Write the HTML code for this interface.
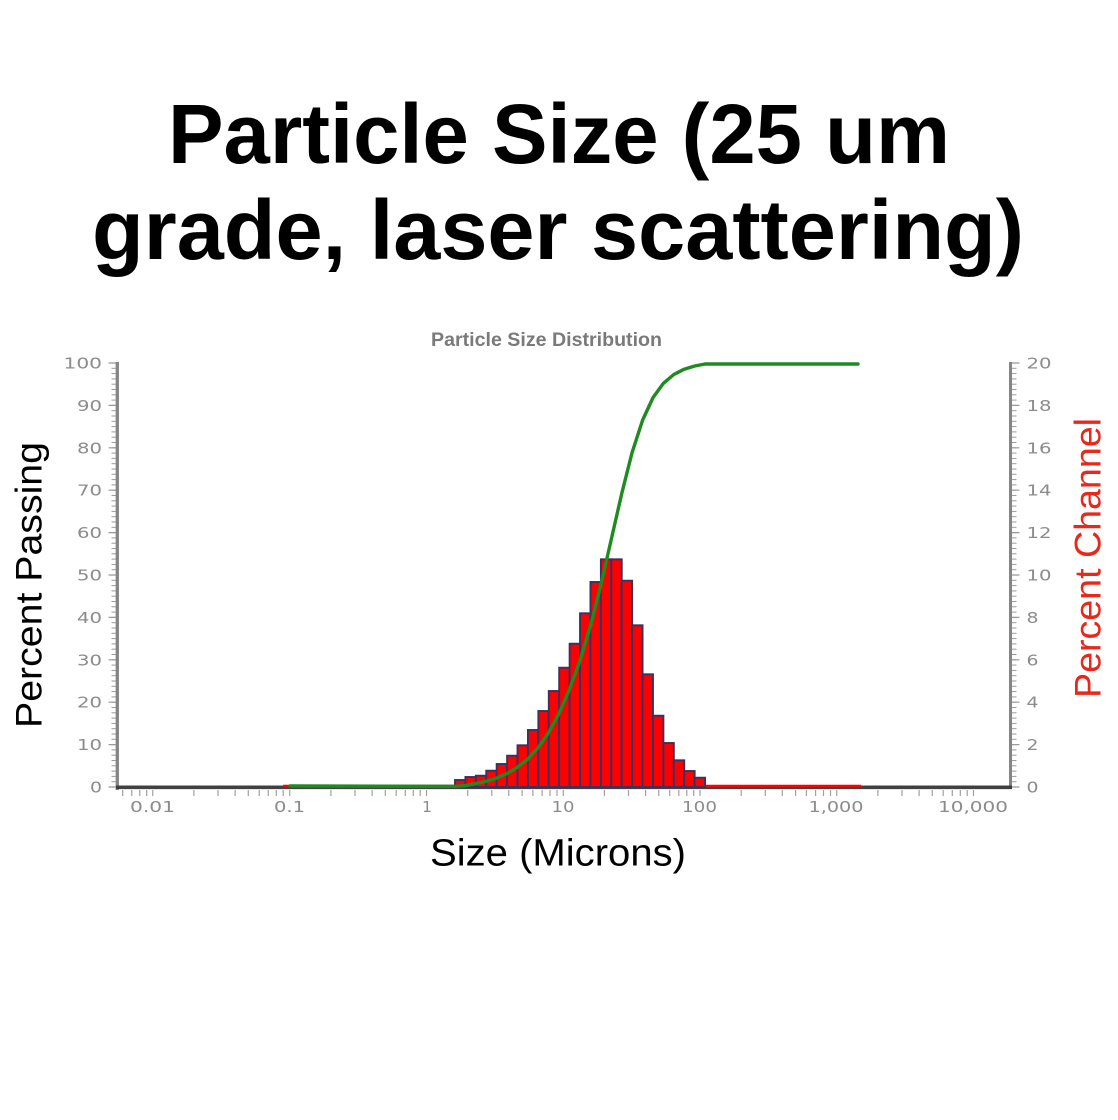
<!DOCTYPE html>
<html>
<head>
<meta charset="utf-8">
<style>
  html, body { margin: 0; padding: 0; background: #ffffff; }
  body { width: 1118px; height: 1120px; overflow: hidden; }
  svg { display: block; }
</style>
</head>
<body>
<svg width="1118" height="1120" viewBox="0 0 1118 1120" xmlns="http://www.w3.org/2000/svg">
  <defs>
    <pattern id="ytick" x="0" y="786.5" width="20" height="5.3" patternUnits="userSpaceOnUse">
      <rect x="0" y="0" width="20" height="1" fill="#9a9a9a"/>
    </pattern>
  </defs>
  <rect x="0" y="0" width="1118" height="1120" fill="#ffffff"/>

  <!-- Main title -->
  <text x="559" y="163" text-anchor="middle" font-family="'Liberation Sans', Arial, sans-serif" font-weight="bold" font-size="84" fill="#000" textLength="782" lengthAdjust="spacingAndGlyphs">Particle Size (25 um</text>
  <text x="558" y="259" text-anchor="middle" font-family="'Liberation Sans', Arial, sans-serif" font-weight="bold" font-size="84" fill="#000" textLength="932" lengthAdjust="spacingAndGlyphs">grade, laser scattering)</text>

  <!-- Chart title -->
  <text x="431" y="346" font-family="'Liberation Sans', Arial, sans-serif" font-weight="bold" font-size="19.6" fill="#7a7a7a" textLength="231" lengthAdjust="spacingAndGlyphs">Particle Size Distribution</text>

  <!-- Left axis minor/major ticks -->
  <rect x="111.5" y="362" width="4.5" height="426" fill="url(#ytick)"/>
  <path d="M108.5 787H116M108.5 744.6H116M108.5 702.2H116M108.5 659.8H116M108.5 617.4H116M108.5 575H116M108.5 532.6H116M108.5 490.2H116M108.5 447.8H116M108.5 405.4H116M108.5 363H116" stroke="#999" stroke-width="1.2" fill="none"/>
  <!-- Right axis ticks -->
  <rect x="1012" y="362" width="4.5" height="426" fill="url(#ytick)"/>
  <path d="M1012 787H1019.5M1012 744.6H1019.5M1012 702.2H1019.5M1012 659.8H1019.5M1012 617.4H1019.5M1012 575H1019.5M1012 532.6H1019.5M1012 490.2H1019.5M1012 447.8H1019.5M1012 405.4H1019.5M1012 363H1019.5" stroke="#999" stroke-width="1.2" fill="none"/>

  <!-- X axis ticks -->
  <path stroke="#a0a0a0" stroke-width="1.2" fill="none" d="
    M122.7 790V796M131.8 790V796M139.8 790V796M146.7 790V796
    M152.75 790V796M193.9 790V796M218 790V796M235.1 790V796M248.3 790V796M259.2 790V796M268.3 790V796M276.3 790V796M283.2 790V796
    M289.75 790V796M330.9 790V796M355 790V796M372.1 790V796M385.3 790V796M396.2 790V796M405.3 790V796M413.3 790V796M420.2 790V796
    M426.5 790V796M467.7 790V796M491.8 790V796M508.8 790V796M522.1 790V796M532.9 790V796M542.1 790V796M550 790V796M557 790V796
    M563.25 790V796M604.4 790V796M628.5 790V796M645.6 790V796M658.8 790V796M669.7 790V796M678.8 790V796M686.8 790V796M693.7 790V796
    M700 790V796M741.2 790V796M765.3 790V796M782.3 790V796M795.6 790V796M806.4 790V796M815.6 790V796M823.5 790V796M830.5 790V796
    M836.75 790V796M877.9 790V796M902 790V796M919.1 790V796M932.3 790V796M943.2 790V796M952.3 790V796M960.3 790V796M967.2 790V796
    M973.5 790V796"/>

  <!-- Axis lines -->
  <line x1="117.3" y1="362" x2="117.3" y2="790" stroke="#858585" stroke-width="3.3"/>
  <line x1="1010.5" y1="362" x2="1010.5" y2="789" stroke="#858585" stroke-width="3"/>
  <line x1="116" y1="787.3" x2="1012" y2="787.3" stroke="#404040" stroke-width="3.6"/>

  <!-- Red baseline of channel series -->
  <line x1="283" y1="786" x2="861" y2="786" stroke="#ff0000" stroke-width="2.4"/>

  <!-- Bars -->
  <g fill="#ff0000" stroke="#3a3160" stroke-width="1.9">
    <rect x="455" y="780" width="10.42" height="7"/>
    <rect x="465.42" y="777" width="10.42" height="10"/>
    <rect x="475.84" y="775.7" width="10.42" height="11.3"/>
    <rect x="486.26" y="770.7" width="10.42" height="16.3"/>
    <rect x="496.68" y="764" width="10.42" height="23"/>
    <rect x="507.1" y="755.7" width="10.42" height="31.3"/>
    <rect x="517.52" y="745.3" width="10.42" height="41.7"/>
    <rect x="527.94" y="730" width="10.42" height="57"/>
    <rect x="538.36" y="711" width="10.42" height="76"/>
    <rect x="548.78" y="691" width="10.42" height="96"/>
    <rect x="559.2" y="667.7" width="10.42" height="119.3"/>
    <rect x="569.62" y="643.7" width="10.42" height="143.3"/>
    <rect x="580.04" y="613.3" width="10.42" height="173.7"/>
    <rect x="590.46" y="582" width="10.42" height="205"/>
    <rect x="600.88" y="559.3" width="10.42" height="227.7"/>
    <rect x="611.3" y="559.3" width="10.42" height="227.7"/>
    <rect x="621.72" y="580.7" width="10.42" height="206.3"/>
    <rect x="632.14" y="625.3" width="10.42" height="161.7"/>
    <rect x="642.56" y="674.3" width="10.42" height="112.7"/>
    <rect x="652.98" y="715.7" width="10.42" height="71.3"/>
    <rect x="663.4" y="743" width="10.42" height="44"/>
    <rect x="673.82" y="760.3" width="10.42" height="26.7"/>
    <rect x="684.24" y="771" width="10.42" height="16"/>
    <rect x="694.66" y="777.7" width="10.42" height="9.3"/>
  </g>

  <!-- Cumulative curve -->
  <polyline fill="none" stroke="#1f8a1f" stroke-width="3.4" stroke-linejoin="round" stroke-linecap="round"
    points="290,786 455,786.3 465.4,785.6 475.8,783.6 486.3,781.3 496.7,778.1 507.1,773.5 517.5,767.2 527.9,758.9 538.4,747.5 548.8,732.3 559.2,713.1 569.6,689.2 580,660.6 590.5,625.8 600.9,584.8 611.3,539.3 621.7,493.7 632.1,452.5 642.6,420.1 653,397.6 663.4,383.3 673.8,374.5 684.2,369.2 694.7,366 705.1,364 858,364"/>

  <!-- Left tick labels -->
  <g font-family="'DejaVu Sans', Verdana, sans-serif" font-size="15" fill="#8c8c8c" text-anchor="end">
    <text x="102" y="792.5" textLength="12" lengthAdjust="spacingAndGlyphs">0</text>
    <text x="102" y="750.1" textLength="25" lengthAdjust="spacingAndGlyphs">10</text>
    <text x="102" y="707.7" textLength="25" lengthAdjust="spacingAndGlyphs">20</text>
    <text x="102" y="665.3" textLength="25" lengthAdjust="spacingAndGlyphs">30</text>
    <text x="102" y="622.9" textLength="25" lengthAdjust="spacingAndGlyphs">40</text>
    <text x="102" y="580.5" textLength="25" lengthAdjust="spacingAndGlyphs">50</text>
    <text x="102" y="538.1" textLength="25" lengthAdjust="spacingAndGlyphs">60</text>
    <text x="102" y="495.7" textLength="25" lengthAdjust="spacingAndGlyphs">70</text>
    <text x="102" y="453.3" textLength="25" lengthAdjust="spacingAndGlyphs">80</text>
    <text x="102" y="410.9" textLength="25" lengthAdjust="spacingAndGlyphs">90</text>
    <text x="102" y="368.5" textLength="38.5" lengthAdjust="spacingAndGlyphs">100</text>
  </g>

  <!-- Right tick labels -->
  <g font-family="'DejaVu Sans', Verdana, sans-serif" font-size="15" fill="#8c8c8c">
    <text x="1026.5" y="792.5" textLength="12" lengthAdjust="spacingAndGlyphs">0</text>
    <text x="1026.5" y="750.1" textLength="12" lengthAdjust="spacingAndGlyphs">2</text>
    <text x="1026.5" y="707.7" textLength="12" lengthAdjust="spacingAndGlyphs">4</text>
    <text x="1026.5" y="665.3" textLength="12" lengthAdjust="spacingAndGlyphs">6</text>
    <text x="1026.5" y="622.9" textLength="12" lengthAdjust="spacingAndGlyphs">8</text>
    <text x="1026.5" y="580.5" textLength="25" lengthAdjust="spacingAndGlyphs">10</text>
    <text x="1026.5" y="538.1" textLength="25" lengthAdjust="spacingAndGlyphs">12</text>
    <text x="1026.5" y="495.7" textLength="25" lengthAdjust="spacingAndGlyphs">14</text>
    <text x="1026.5" y="453.3" textLength="25" lengthAdjust="spacingAndGlyphs">16</text>
    <text x="1026.5" y="410.9" textLength="25" lengthAdjust="spacingAndGlyphs">18</text>
    <text x="1026.5" y="368.5" textLength="25" lengthAdjust="spacingAndGlyphs">20</text>
  </g>

  <!-- X tick labels -->
  <g font-family="'DejaVu Sans', Verdana, sans-serif" font-size="15" fill="#8c8c8c" text-anchor="middle">
    <text x="152.5" y="812" textLength="45" lengthAdjust="spacingAndGlyphs">0.01</text>
    <text x="289.5" y="812" textLength="31" lengthAdjust="spacingAndGlyphs">0.1</text>
    <text x="427" y="812" textLength="10" lengthAdjust="spacingAndGlyphs">1</text>
    <text x="563" y="812" textLength="23" lengthAdjust="spacingAndGlyphs">10</text>
    <text x="699.5" y="812" textLength="35" lengthAdjust="spacingAndGlyphs">100</text>
    <text x="836" y="812" textLength="55" lengthAdjust="spacingAndGlyphs">1,000</text>
    <text x="973" y="812" textLength="70" lengthAdjust="spacingAndGlyphs">10,000</text>
  </g>

  <!-- Axis titles -->
  <text x="430" y="865.5" font-family="'Liberation Sans', Arial, sans-serif" font-size="38" fill="#000" textLength="256" lengthAdjust="spacingAndGlyphs">Size (Microns)</text>
  <text transform="translate(41.7,728) rotate(-90)" font-family="'Liberation Sans', Arial, sans-serif" font-size="37" fill="#000" textLength="286" lengthAdjust="spacingAndGlyphs">Percent Passing</text>
  <text transform="translate(1100.5,698) rotate(-90)" font-family="'Liberation Sans', Arial, sans-serif" font-size="37.5" fill="#e8281c" textLength="280" lengthAdjust="spacingAndGlyphs">Percent Channel</text>
</svg>
</body>
</html>
